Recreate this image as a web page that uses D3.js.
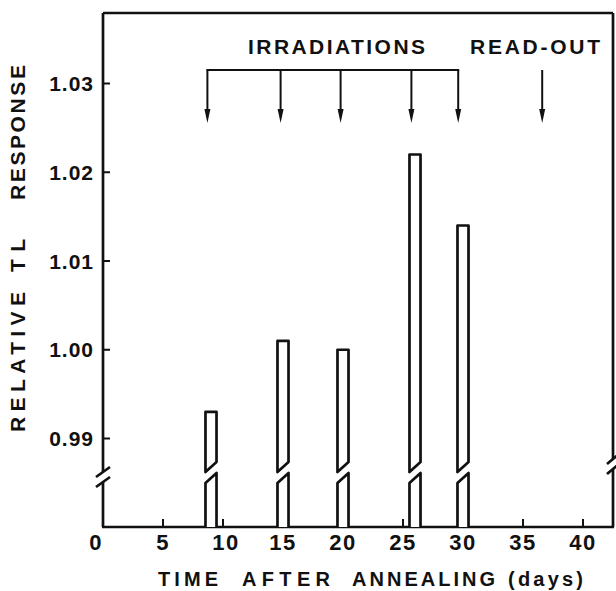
<!DOCTYPE html>
<html>
<head>
<meta charset="utf-8">
<script src="https://cdn.jsdelivr.net/npm/d3@7"></script>
<style>
  html, body { margin: 0; padding: 0; background: #fff; }
  svg { display: block; }
  text { font-family: "Liberation Sans", Arial, Helvetica, sans-serif; font-weight: bold; fill: #111; }
</style>
</head>
<body>
<svg id="chart" width="616" height="591"></svg>
<script>
// ---- data ----
const barDays = [9, 15, 20, 26, 30];
const barValues = [0.993, 1.001, 1.000, 1.022, 1.014];
const irradiationDays = [8.7, 14.8, 19.8, 25.7, 29.6];
const readoutDays = [36.6];
const xTicks = [0, 5, 10, 15, 20, 25, 30, 35, 40];
const yTicks = [0.99, 1.00, 1.01, 1.02, 1.03];
const yTickLabels = ["0.99", "1.00", "1.01", "1.02", "1.03"];

(function () {
// ---- layout ----
const svg = d3.select("#chart");
const pLeft = 103, pRight = 613, pTop = 13, pBottom = 527;
const x = d3.scaleLinear().domain([0, 42.5]).range([pLeft, pRight]);
const y = d3.scaleLinear().domain([0.99, 1.03]).range([438.5, 83.5]);
const ink = "#111";
const lw = 2.7;

// frame: top line
svg.append("line").attr("x1", pLeft).attr("x2", pRight).attr("y1", pTop).attr("y2", pTop)
  .attr("stroke", ink).attr("stroke-width", lw);

// left axis with break
const lb1 = 472, lb2 = 482;
svg.append("path").attr("d", `M${pLeft},${pTop} L${pLeft},${lb1}`).attr("stroke", ink).attr("stroke-width", lw).attr("fill", "none");
svg.append("path").attr("d", `M${pLeft},${lb2} L${pLeft},${pBottom}`).attr("stroke", ink).attr("stroke-width", lw).attr("fill", "none");
[lb1, lb2].forEach(c => {
  svg.append("line").attr("x1", pLeft - 7).attr("y1", c + 5).attr("x2", pLeft + 7).attr("y2", c - 5)
    .attr("stroke", ink).attr("stroke-width", lw);
});

// right axis with break
const rb1 = 459, rb2 = 469;
svg.append("path").attr("d", `M${pRight},${pTop} L${pRight},${rb1}`).attr("stroke", ink).attr("stroke-width", lw).attr("fill", "none");
svg.append("path").attr("d", `M${pRight},${rb2} L${pRight},${pBottom}`).attr("stroke", ink).attr("stroke-width", lw).attr("fill", "none");
[rb1, rb2].forEach(c => {
  svg.append("line").attr("x1", pRight - 6).attr("y1", c + 5).attr("x2", pRight + 6).attr("y2", c - 5)
    .attr("stroke", ink).attr("stroke-width", lw);
});

// bottom axis
svg.append("line").attr("x1", pLeft - 1).attr("x2", pRight + 1).attr("y1", pBottom).attr("y2", pBottom)
  .attr("stroke", ink).attr("stroke-width", lw);

// x ticks (inward) and labels
const xg = svg.append("g");
xg.selectAll("line").data(xTicks.filter(d => d > 0)).join("line")
  .attr("x1", d => x(d)).attr("x2", d => x(d))
  .attr("y1", pBottom).attr("y2", pBottom - 8)
  .attr("stroke", ink).attr("stroke-width", 2);
xg.selectAll("text").data(xTicks).join("text")
  .attr("x", d => x(d) + (d === 0 ? -7 : (d === 10 ? 3 : 0)))
  .attr("y", 550)
  .attr("text-anchor", "middle")
  .attr("font-size", 22)
  .attr("letter-spacing", 1.5)
  .text(d => d);

// y ticks (inward) and labels
const yg = svg.append("g");
yg.selectAll("line").data(yTicks).join("line")
  .attr("x1", pLeft).attr("x2", pLeft + 7)
  .attr("y1", d => y(d)).attr("y2", d => y(d))
  .attr("stroke", ink).attr("stroke-width", 2);
yg.selectAll("text").data(yTicks).join("text")
  .attr("x", 94)
  .attr("y", d => y(d))
  .attr("dy", "0.36em")
  .attr("text-anchor", "end")
  .attr("font-size", 21)
  .attr("letter-spacing", 1)
  .text((d, i) => yTickLabels[i]);

// bars with break
const bw = 0.92;
const ub = 467, lbTop = 478;
const bars = svg.append("g");
barDays.forEach((d, i) => {
  const xl = x(d - bw / 2), xr = x(d + bw / 2);
  const yt = y(barValues[i]);
  bars.append("path")
    .attr("d", `M${xl},${ub + 5} L${xl},${yt} L${xr},${yt} L${xr},${ub - 5} Z`)
    .attr("fill", "#fff").attr("stroke", ink).attr("stroke-width", lw).attr("stroke-linejoin", "round");
  bars.append("path")
    .attr("d", `M${xl},${pBottom} L${xl},${lbTop + 5} L${xr},${lbTop - 5} L${xr},${pBottom}`)
    .attr("fill", "#fff").attr("stroke", ink).attr("stroke-width", lw).attr("stroke-linejoin", "round");
});

// arrows
const arrowTop = 70, arrowTip = 123, headLen = 14, headHalf = 3;
function arrow(g, xd) {
  const xp = x(xd);
  g.append("line").attr("x1", xp).attr("x2", xp).attr("y1", arrowTop).attr("y2", arrowTip - headLen + 2)
    .attr("stroke", ink).attr("stroke-width", 2);
  g.append("path")
    .attr("d", `M${xp - headHalf},${arrowTip - headLen} L${xp + headHalf},${arrowTip - headLen} L${xp},${arrowTip} Z`)
    .attr("fill", ink);
}
const ag = svg.append("g");
ag.append("line")
  .attr("x1", x(d3.min(irradiationDays)) - 1).attr("x2", x(d3.max(irradiationDays)) + 1)
  .attr("y1", arrowTop).attr("y2", arrowTop)
  .attr("stroke", ink).attr("stroke-width", 2);
irradiationDays.forEach(d => arrow(ag, d));
readoutDays.forEach(d => arrow(ag, d));

// annotations
svg.append("text").attr("x", 248).attr("y", 54).attr("font-size", 21)
  .attr("textLength", 177).attr("lengthAdjust", "spacing").text("IRRADIATIONS");
svg.append("text").attr("x", 470).attr("y", 54).attr("font-size", 21)
  .attr("textLength", 130).attr("lengthAdjust", "spacing").text("READ-OUT");

// x-axis title
const xTitleWords = [["TIME", 158, 60], ["AFTER", 242, 88], ["ANNEALING", 352, 143], ["(days)", 508, 75]];
xTitleWords.forEach(([w, xs, len]) => {
  svg.append("text").attr("x", xs).attr("y", 586).attr("font-size", 20)
    .attr("textLength", len).attr("lengthAdjust", "spacing").text(w);
});

// y-axis title (rotated)
const yTitleWords = [["RELATIVE", 432, 140], ["TL", 272, 33], ["RESPONSE", 200, 135]];
yTitleWords.forEach(([w, ys, len]) => {
  svg.append("text").attr("transform", `translate(25,${ys}) rotate(-90)`)
    .attr("font-size", 21).attr("textLength", len).attr("lengthAdjust", "spacing").text(w);
});
})();
</script>
</body>
</html>
